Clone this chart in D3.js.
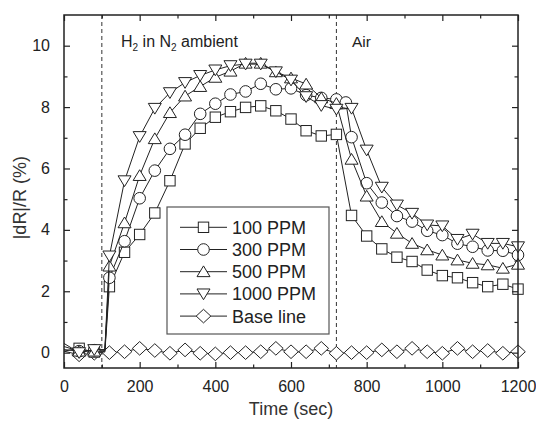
<!DOCTYPE html>
<html><head><meta charset="utf-8">
<script src="https://cdn.jsdelivr.net/npm/d3@7/dist/d3.min.js"></script>
<style>
html,body{margin:0;padding:0;background:#fff;}
svg{display:block;}
svg text{font-family:"Liberation Sans",Arial,sans-serif;}
</style></head>
<body>
<div id="chart"></div>
<script>
// ---- data ----
const times = [0,40,80,120,160,200,240,280,320,360,400,440,480,520,560,600,640,680,720,760,800,840,880,920,960,1000,1040,1080,1120,1160,1200];
const ppm100  = [0.05,0.14,0.02,2.15,3.27,3.85,4.55,5.6,6.8,7.31,7.67,7.85,7.99,8.04,7.88,7.61,7.23,7.06,7.11,4.47,3.80,3.38,3.11,2.97,2.69,2.51,2.44,2.28,2.15,2.23,2.07];
const ppm300  = [0.1,0.05,0.08,2.44,3.63,5.03,5.93,6.64,7.1,7.78,8.11,8.41,8.51,8.76,8.58,8.61,8.39,8.3,8.25,7.02,5.52,4.89,4.45,4.27,3.97,3.83,3.55,3.45,3.33,3.32,3.18];
const ppm500  = [0.2,0.05,0.05,2.82,4.23,5.77,6.97,7.82,8.36,8.67,8.97,9.17,9.43,9.43,9.15,8.95,8.75,8.3,8.12,6.3,5.1,4.27,3.89,3.56,3.35,3.18,3.02,2.91,2.86,2.75,2.88];
const ppm1000 = [0.3,0.0,0.1,3.15,5.6,7.04,7.96,8.47,8.8,9.03,9.21,9.35,9.4,9.4,9.15,8.88,8.34,8.05,7.93,7.96,6.6,5.39,4.81,4.54,4.16,4.13,3.69,3.86,3.56,3.56,3.45];
const baseline = [0.05,-0.07,-0.02,0.0,0.03,0.14,0.07,-0.02,0.09,-0.02,-0.04,0,0,0.03,0.14,0.03,0.03,0.14,-0.02,0,0,0.09,0.03,0.14,0.03,-0.02,0.14,0.03,0.07,-0.02,0.03];
const extra300 = [745, 8.15];          // extra 300 PPM sample just after switching to air
const riseTime = 108;                  // time at which the H2 curves jump up
const gasOn = 100, gasOff = 720;       // dashed markers
const seriesNames = ["100 PPM","300 PPM","500 PPM","1000 PPM","Base line"];
const xTicks = [0,200,400,600,800,1000,1200];
const yTicks = [0,2,4,6,8,10];

// ---- layout ----
const W = 536, H = 423;
const m = {left:64, right:18, top:15, bottom:55};
const svg = d3.select("#chart").append("svg").attr("width",W).attr("height",H);
const x = d3.scaleLinear().domain([0,1200]).range([m.left, W-m.right]);
const y = d3.scaleLinear().domain([-0.5,11]).range([H-m.bottom, m.top]);
const ink = "#222";
const font = '"Liberation Sans",Arial,sans-serif';

svg.append("defs").append("clipPath").attr("id","clip")
  .append("rect").attr("x",m.left).attr("y",m.top)
  .attr("width",x(1200)-m.left).attr("height",y(-0.5)-m.top);

// dashed lines
[gasOn, gasOff].forEach(t=>{
  svg.append("line").attr("x1",x(t)).attr("x2",x(t)).attr("y1",y(11)).attr("y2",y(-0.5))
    .attr("stroke","#333").attr("stroke-width",1).attr("stroke-dasharray","4,3");
});

// series construction
function build(vals, extra){
  const pts = times.map((t,i)=>({t, v:vals[i], mark: t>0}));
  pts.splice(3,0,{t:riseTime, v:vals[2], mark:false});
  if(extra){
    const idx = pts.findIndex(p=>p.t>extra[0]);
    pts.splice(idx,0,{t:extra[0], v:extra[1], mark:true});
  }
  return pts;
}
const shapes = ["square","circle","up","down","diamond"];
const series = [
  build(ppm100), build(ppm300, extra300), build(ppm500), build(ppm1000),
  times.map((t,i)=>({t, v:baseline[i], mark:t>0}))
];

function marker(g, shape, cx, cy){
  const s = 5.2;
  if(shape==="square"){
    g.append("rect").attr("x",cx-s).attr("y",cy-s).attr("width",2*s).attr("height",2*s);
  } else if(shape==="circle"){
    g.append("circle").attr("cx",cx).attr("cy",cy).attr("r",5.8);
  } else if(shape==="up"){
    const a=6.5,h=5.8;
    g.append("path").attr("d",`M${cx},${cy-h}L${cx+a},${cy+h*0.85}L${cx-a},${cy+h*0.85}Z`);
  } else if(shape==="down"){
    const a=6.5,h=5.8;
    g.append("path").attr("d",`M${cx},${cy+h}L${cx+a},${cy-h*0.85}L${cx-a},${cy-h*0.85}Z`);
  } else {
    const a=7.3,h=6.8;
    g.append("path").attr("d",`M${cx},${cy-h}L${cx+a},${cy}L${cx},${cy+h}L${cx-a},${cy}Z`);
  }
}

const plot = svg.append("g");
const line = d3.line().x(d=>x(d.t)).y(d=>y(d.v));
[4,0,1,2,3].forEach(k=>{
  const g = plot.append("g");
  g.append("path").datum(series[k]).attr("d",line).attr("fill","none")
    .attr("stroke",ink).attr("stroke-width",1).attr("clip-path","url(#clip)");
  const mg = g.append("g").attr("fill","#fff").attr("stroke",ink).attr("stroke-width",1);
  series[k].filter(d=>d.mark).forEach(d=>marker(mg, shapes[k], x(d.t), y(d.v)));
});

// axes frame
svg.append("rect").attr("x",m.left).attr("y",m.top)
  .attr("width",x(1200)-m.left).attr("height",y(-0.5)-m.top)
  .attr("fill","none").attr("stroke",ink).attr("stroke-width",1.5);

function inwardAxis(gen, transform){
  const g = svg.append("g").attr("transform",transform);
  g.call(gen);
  g.attr("font-family",font);
  g.select(".domain").remove();
  g.selectAll("line").attr("stroke",ink).attr("stroke-width",1.2);
  return g;
}
const minorX = d3.range(100,1200,200);
const minorY = [1,3,5,7,9];
const fs = "16px";
const fmt = d3.format("d");
// bottom
let gb = inwardAxis(d3.axisBottom(x).tickValues(xTicks).tickFormat(fmt).tickSizeInner(-6).tickSizeOuter(0).tickPadding(13), `translate(0,${y(-0.5)})`);
gb.selectAll("text").attr("font-size",fs).attr("fill","#222");
inwardAxis(d3.axisBottom(x).tickValues(minorX).tickSizeInner(-3.5).tickSizeOuter(0).tickFormat(""), `translate(0,${y(-0.5)})`);
// top
inwardAxis(d3.axisTop(x).tickValues(xTicks).tickSizeInner(-6).tickSizeOuter(0).tickFormat(""), `translate(0,${y(11)})`);
inwardAxis(d3.axisTop(x).tickValues(minorX).tickSizeInner(-3.5).tickSizeOuter(0).tickFormat(""), `translate(0,${y(11)})`);
// left
let gl = inwardAxis(d3.axisLeft(y).tickValues(yTicks).tickFormat(fmt).tickSizeInner(-6).tickSizeOuter(0).tickPadding(14), `translate(${m.left},0)`);
gl.selectAll("text").attr("font-size",fs).attr("fill","#222");
inwardAxis(d3.axisLeft(y).tickValues(minorY).tickSizeInner(-3.5).tickSizeOuter(0).tickFormat(""), `translate(${m.left},0)`);
// right
inwardAxis(d3.axisRight(y).tickValues(yTicks).tickSizeInner(-6).tickSizeOuter(0).tickFormat(""), `translate(${x(1200)},0)`);
inwardAxis(d3.axisRight(y).tickValues(minorY).tickSizeInner(-3.5).tickSizeOuter(0).tickFormat(""), `translate(${x(1200)},0)`);

// axis titles
svg.append("text").attr("x",(m.left+x(1200))/2).attr("y",415).attr("text-anchor","middle")
  .attr("font-size","18px").attr("fill","#333").text("Time (sec)");
svg.append("text").attr("transform",`translate(26,${y(5.05)}) rotate(-90)`).attr("text-anchor","middle")
  .attr("font-size","18px").attr("fill","#333").text("|dR|/R (%)");

// annotations
const ann = svg.append("text").attr("x",121).attr("y",47).attr("font-size","16px").attr("fill","#222");
ann.append("tspan").text("H");
ann.append("tspan").attr("font-size","10px").attr("dy",4).text("2");
ann.append("tspan").attr("dy",-4).text(" in N");
ann.append("tspan").attr("font-size","10px").attr("dy",4).text("2");
ann.append("tspan").attr("dy",-4).text(" ambient");
svg.append("text").attr("x",352).attr("y",47).attr("font-size","15.5px").attr("fill","#222").text("Air");

// legend
const lg = svg.append("g");
lg.append("rect").attr("x",167).attr("y",207).attr("width",162).attr("height",127)
  .attr("fill","#fff").attr("stroke","#555").attr("stroke-width",1.2);
seriesNames.forEach((name,i)=>{
  const cy = 227.3 + i*22.2;
  lg.append("line").attr("x1",180).attr("x2",227).attr("y1",cy).attr("y2",cy).attr("stroke",ink).attr("stroke-width",1);
  const mg = lg.append("g").attr("fill","#fff").attr("stroke",ink).attr("stroke-width",1);
  marker(mg, shapes[i], 203.5, cy);
  lg.append("text").attr("x",232).attr("y",cy).attr("dy","0.36em").attr("font-size","18px").attr("fill","#222").text(name);
});
</script>
</body></html>
